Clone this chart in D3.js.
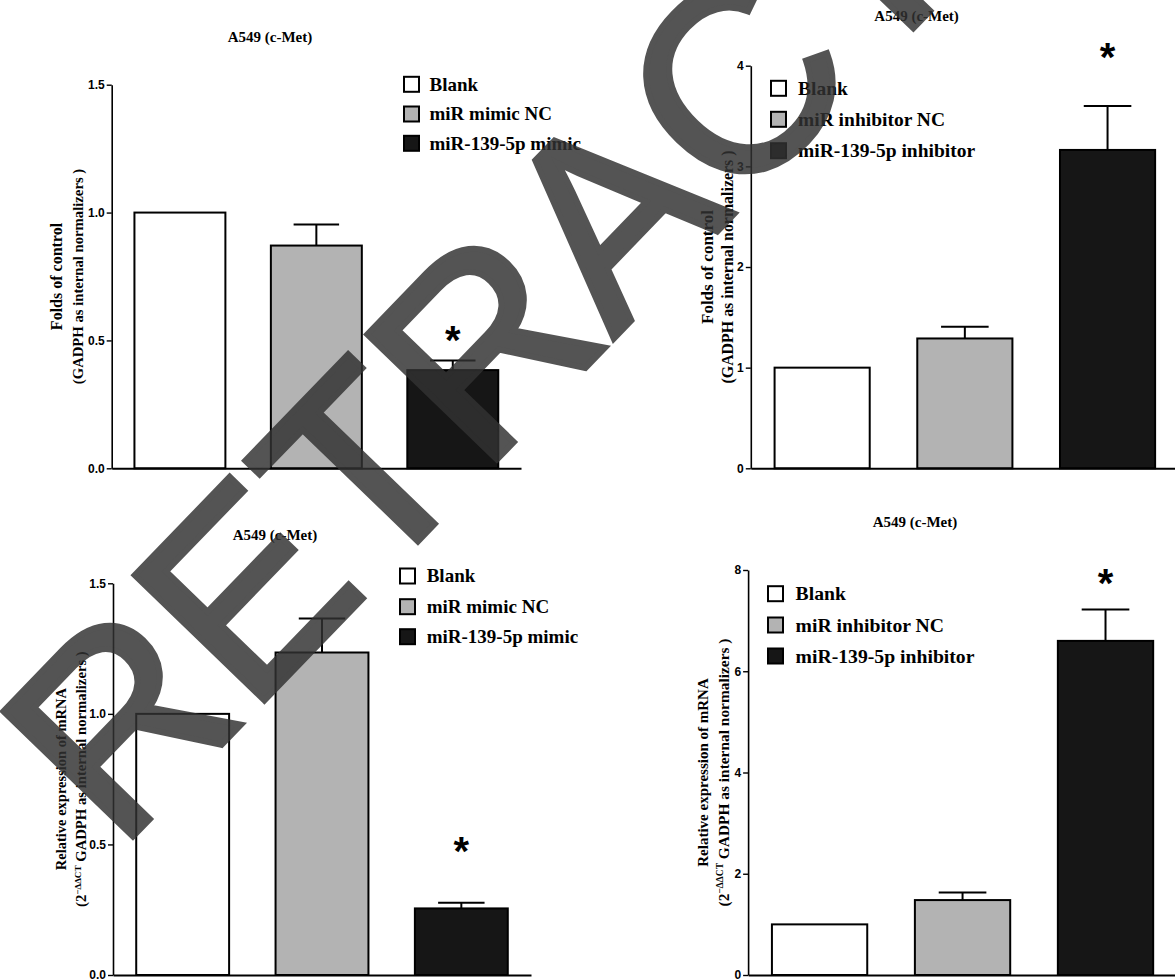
<!DOCTYPE html>
<html><head><meta charset="utf-8">
<script src="https://cdn.jsdelivr.net/npm/d3@7"></script>
<style>body{margin:0;background:#fff;} svg{display:block;}</style>
</head><body>
<svg id="chart" width="1175" height="979"></svg>
<script>
// ---------- data ----------
const mimicGroups = ["Blank", "miR mimic NC", "miR-139-5p mimic"];
const inhibitorGroups = ["Blank", "miR inhibitor NC", "miR-139-5p inhibitor"];
const barColors = ["#ffffff", "#b3b3b3", "#161616"];

const foldsMimic = [1.0, 0.871, 0.384];
const foldsMimicErr = [0, 0.082, 0.038];
const foldsInhibitor = [1.0, 1.29, 3.163];
const foldsInhibitorErr = [0, 0.117, 0.437];
const mrnaMimic = [1.0, 1.235, 0.255];
const mrnaMimicErr = [0, 0.13, 0.022];
const mrnaInhibitor = [1.0, 1.48, 6.60];
const mrnaInhibitorErr = [0, 0.15, 0.62];

const starGroup = [2, 2, 2, 2];
const starValue = [0.534, 4.166, 0.506, 7.9];

const ticksDecimal = [0, 0.5, 1.0, 1.5];
const ticksFoldsInhibitor = [0, 1, 2, 3, 4];
const ticksMrnaInhibitor = [0, 2, 4, 6, 8];

const titleText = "A549 (c-Met)";
const foldsLabel1 = "Folds of control";
const foldsLabel2 = [{t: "(GADPH as internal normalizers )"}];
const mrnaLabel1 = "Relative expression of mRNA";
const mrnaLabel2 = [{t: "(2"}, {t: "\u2212\u0394\u0394CT", sup: true}, {t: " GADPH as internal normalizers )"}];
const watermarkText = "RETRACTED";

// ---------- layout ----------
const panels = [
  {groups: mimicGroups, values: foldsMimic, errors: foldsMimicErr, yMax: 1.5, ticks: ticksDecimal, fmt: ".1f",
   l1: foldsLabel1, l2: foldsLabel2, x0: 111.7, x1: 521, yb: 468.3, yt: 84.7,
   title: [270, 42.3], leg: {x: 404, rows: [84.3, 114, 143.3], tx: 429.5, fs: 19},
   lab: {x1: 56.6, x2: 78.5, fs1: 16, fs2: 14.7}},
  {groups: inhibitorGroups, values: foldsInhibitor, errors: foldsInhibitorErr, yMax: 4, ticks: ticksFoldsInhibitor, fmt: "d",
   l1: foldsLabel1, l2: foldsLabel2, x0: 750.8, x1: 1178.9, yb: 468.3, yt: 65.7,
   title: [916.6, 20.7], leg: {x: 771, rows: [88.3, 119.3, 150.7], tx: 798, fs: 19.5},
   lab: {x1: 707, x2: 728, fs1: 17, fs2: 15.9}},
  {groups: mimicGroups, values: mrnaMimic, errors: mrnaMimicErr, yMax: 1.5, ticks: ticksDecimal, fmt: ".1f",
   l1: mrnaLabel1, l2: mrnaLabel2, x0: 113, x1: 531, yb: 975, yt: 583.3,
   title: [275, 540], leg: {x: 400, rows: [576, 606.7, 636.7], tx: 426.7, fs: 19},
   lab: {x1: 61, x2: 81.5, fs1: 14.5, fs2: 14.7}},
  {groups: inhibitorGroups, values: mrnaInhibitor, errors: mrnaInhibitorErr, yMax: 8, ticks: ticksMrnaInhibitor, fmt: "d",
   l1: mrnaLabel1, l2: mrnaLabel2, x0: 748.1, x1: 1177, yb: 975, yt: 570,
   title: [915, 526.7], leg: {x: 768, rows: [593.7, 625, 656], tx: 795.6, fs: 19.7},
   lab: {x1: 703.3, x2: 723.5, fs1: 15, fs2: 15.4}}
];

const svg = d3.select("#chart");
const serif = "'Liberation Serif','Times New Roman',serif";
const sans = "'Liberation Sans',Arial,sans-serif";

panels.forEach((p, pi) => {
  const g = svg.append("g");
  const x = d3.scaleBand().domain(p.groups).range([p.x0, p.x1]).paddingInner(1/3).paddingOuter(1/6);
  const y = d3.scaleLinear().domain([0, p.yMax]).range([p.yb, p.yt]);

  // bars
  g.selectAll("rect.bar").data(p.groups).join("rect")
    .attr("x", d => x(d)).attr("width", x.bandwidth())
    .attr("y", (d, i) => y(p.values[i])).attr("height", (d, i) => y(0) - y(p.values[i]))
    .attr("fill", (d, i) => barColors[i]).attr("stroke", "#000").attr("stroke-width", 2);

  // error bars (upper only)
  p.groups.forEach((d, i) => {
    if (!p.errors[i]) return;
    const cx = x(d) + x.bandwidth() / 2, hw = x.bandwidth() / 4;
    g.append("line").attr("x1", cx).attr("x2", cx)
      .attr("y1", y(p.values[i])).attr("y2", y(p.values[i] + p.errors[i]))
      .attr("stroke", "#000").attr("stroke-width", 2);
    g.append("line").attr("x1", cx - hw).attr("x2", cx + hw)
      .attr("y1", y(p.values[i] + p.errors[i])).attr("y2", y(p.values[i] + p.errors[i]))
      .attr("stroke", "#000").attr("stroke-width", 2);
  });

  // star
  const sg = p.groups[starGroup[pi]];
  g.append("text").attr("x", x(sg) + x.bandwidth() / 2).attr("y", y(starValue[pi]) + 22)
    .attr("text-anchor", "middle").attr("font-family", sans).attr("font-weight", "bold")
    .attr("font-size", 40).text("*");

  // axes
  const ya = d3.axisLeft(y).tickValues(p.ticks).tickFormat(d3.format(p.fmt)).tickSize(5).tickSizeOuter(0).tickPadding(2);
  const yg = g.append("g").attr("transform", `translate(${p.x0},0)`).call(ya);
  yg.select(".domain").attr("stroke-width", 1.6);
  yg.selectAll(".tick line").attr("stroke-width", 1.4);
  yg.selectAll("text").attr("font-family", sans).attr("font-weight", "bold").attr("font-size", 12).attr("fill", "#000");
  const xa = d3.axisBottom(x).tickSize(0).tickSizeOuter(0).tickFormat("");
  const xg = g.append("g").attr("transform", `translate(0,${p.yb})`).call(xa);
  xg.select(".domain").attr("stroke-width", 2);

  // title
  g.append("text").attr("x", p.title[0]).attr("y", p.title[1]).attr("text-anchor", "middle")
    .attr("font-family", serif).attr("font-weight", "bold").attr("font-size", 15).text(titleText);

  // y label
  const midY = (p.yb + p.yt) / 2;
  g.append("text").attr("transform", `translate(${p.lab.x1 + 0.34 * p.lab.fs1},${midY}) rotate(-90)`)
    .attr("text-anchor", "middle").attr("font-family", serif).attr("font-weight", "bold")
    .attr("font-size", p.lab.fs1).text(p.l1);
  const t2 = g.append("text").attr("transform", `translate(${p.lab.x2 + 0.34 * p.lab.fs2},${midY}) rotate(-90)`)
    .attr("text-anchor", "middle").attr("font-family", serif).attr("font-weight", "bold")
    .attr("font-size", p.lab.fs2);
  let prevSup = false;
  p.l2.forEach(s => {
    const ts = t2.append("tspan").text(s.t);
    if (s.sup) { ts.attr("font-size", p.lab.fs2 * 0.62).attr("dy", -p.lab.fs2 * 0.38); prevSup = true; }
    else if (prevSup) { ts.attr("dy", p.lab.fs2 * 0.38); prevSup = false; }
  });

  // legend
  p.groups.forEach((d, i) => {
    const cy = p.leg.rows[i];
    g.append("rect").attr("x", p.leg.x).attr("y", cy - 7.5).attr("width", 15).attr("height", 15)
      .attr("fill", barColors[i]).attr("stroke", "#000").attr("stroke-width", 2);
    g.append("text").attr("x", p.leg.tx).attr("y", cy + 0.33 * p.leg.fs)
      .attr("font-family", serif).attr("font-weight", "bold").attr("font-size", p.leg.fs).text(d);
  });
});

// watermark
svg.append("text").attr("transform", "translate(118,852) rotate(-46)")
  .attr("font-family", sans).attr("font-size", 262)
  .attr("fill", "rgb(50,50,50)").attr("stroke", "rgb(50,50,50)").attr("stroke-width", 6)
  .attr("stroke-linejoin", "miter").attr("opacity", 0.83).text(watermarkText);
</script>
</body></html>
